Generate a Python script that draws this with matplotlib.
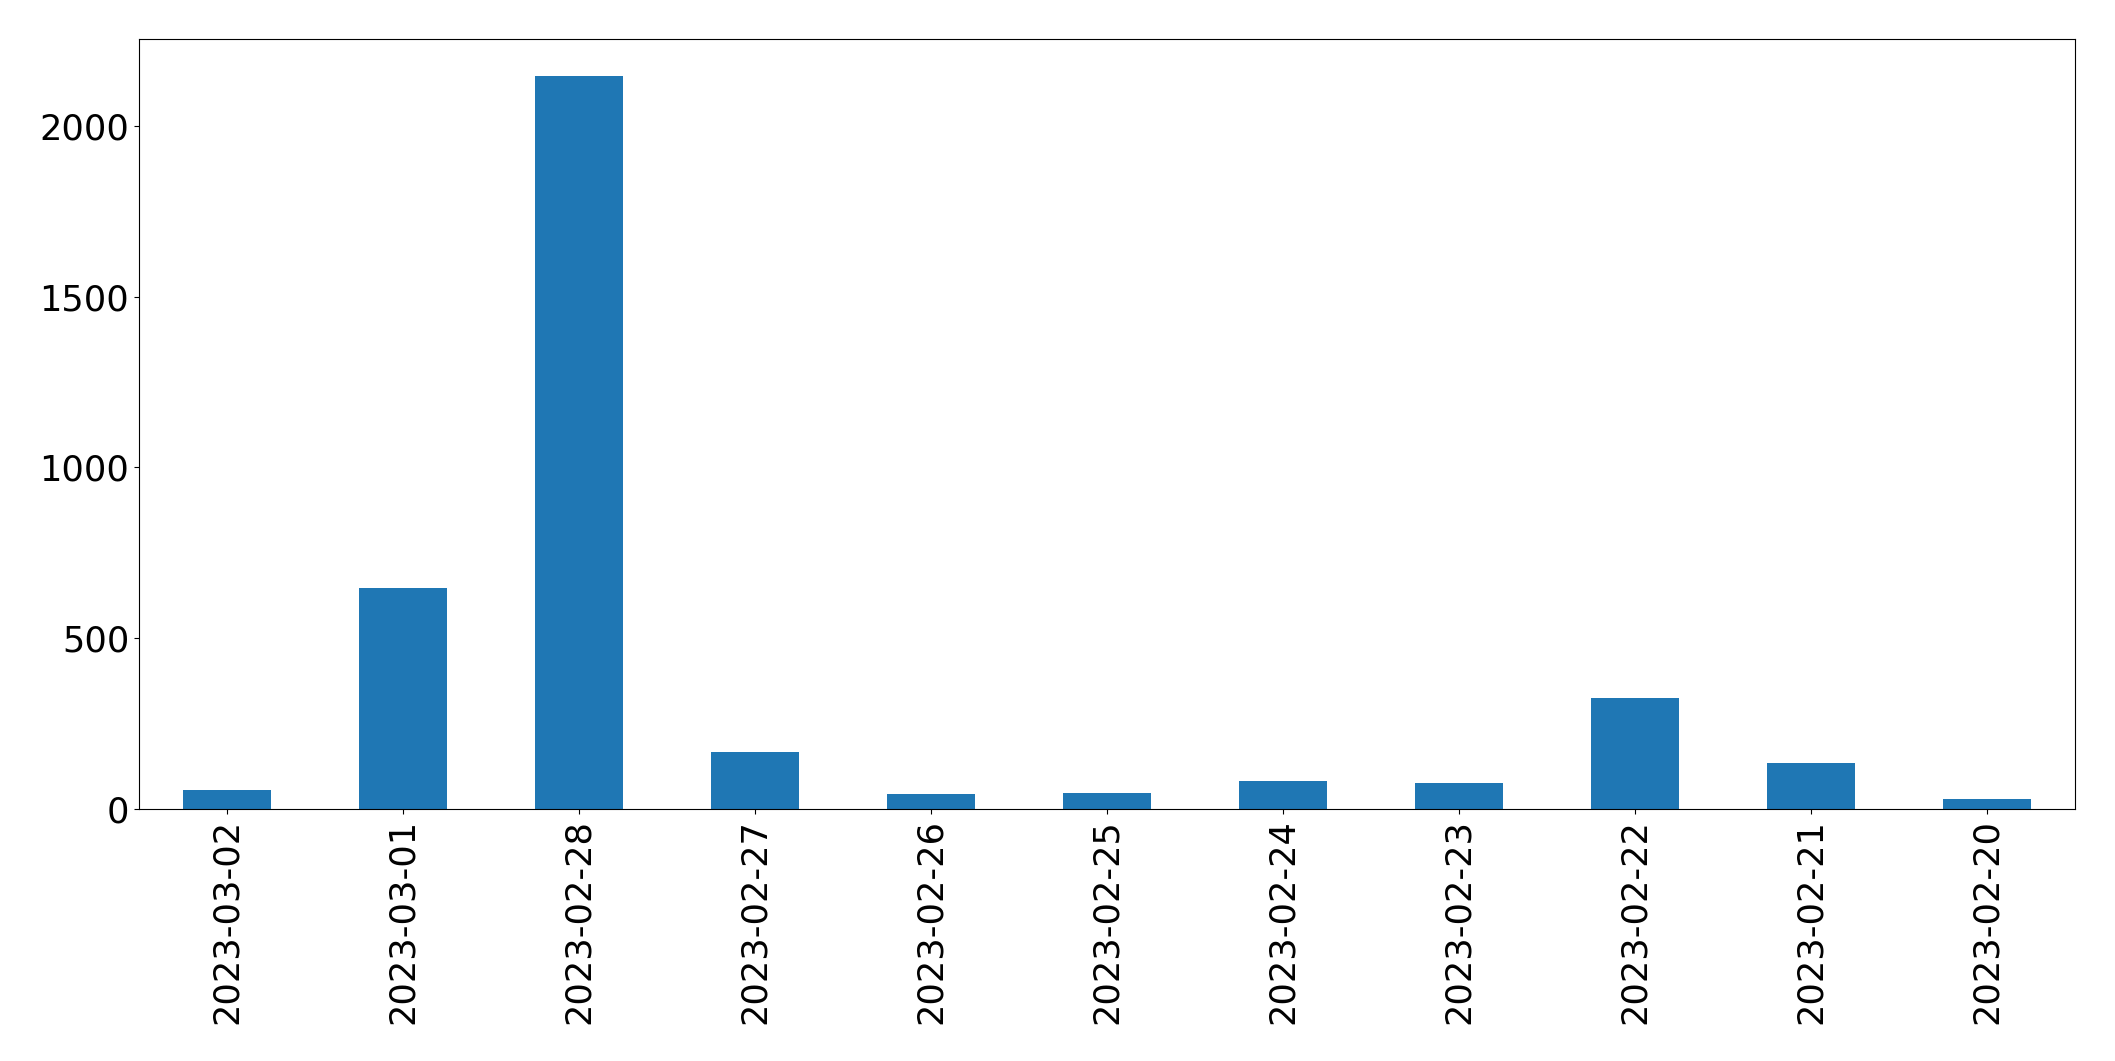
import matplotlib
matplotlib.use("Agg")
import matplotlib.pyplot as plt
import numpy as np

dates = ["2023-03-02", "2023-03-01", "2023-02-28", "2023-02-27", "2023-02-26",
         "2023-02-25", "2023-02-24", "2023-02-23", "2023-02-22", "2023-02-21",
         "2023-02-20"]
counts = [56, 648, 2146, 167, 44, 47, 82, 76, 325, 135, 29]

fig = plt.figure(figsize=(21.15, 10.61), dpi=100)
ax = fig.add_axes([0.0657, 0.2375, 0.9153, 0.7255])

x = np.arange(len(dates))
ax.bar(x, counts, width=0.5, color="#1f77b4")
ax.set_xlim(-0.5, len(dates) - 0.5)
ax.set_ylim(0, max(counts) * 1.05)
ax.set_xticks(x)
ax.set_xticklabels(dates, rotation=90)
ax.tick_params(axis="both", labelsize=25.3)

fig.savefig("out.png", dpi=100)
